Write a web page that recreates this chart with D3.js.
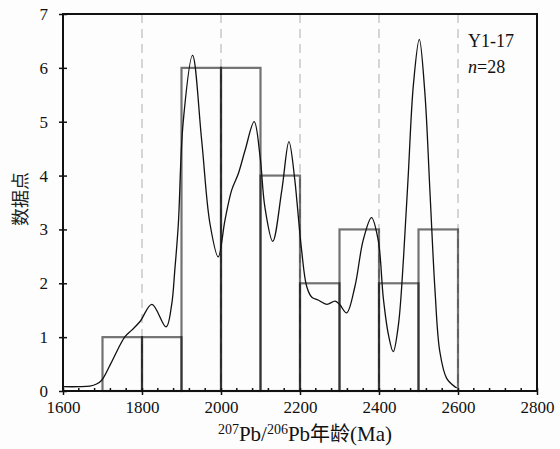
<!DOCTYPE html>
<html>
<head>
<meta charset="utf-8">
<script src="https://cdn.jsdelivr.net/npm/d3@7"></script>
<style>
  body { margin: 0; background: #fdfdfd; }
  svg { display: block; }
  svg text { font-family: 'Times New Roman', 'Liberation Serif', Tinos, 'DejaVu Serif', serif; }
  svg text.cjk, svg tspan.cjk { font-family: 'Noto Sans CJK SC', sans-serif; }
</style>
</head>
<body>
<div id="chart"></div>
<script>
// histogram bins (Ma) and counts
const binStarts = [1700, 1800, 1900, 2000, 2100, 2200, 2300, 2400, 2500];
const binCounts = [1, 1, 6, 6, 4, 2, 3, 2, 3];
const binWidth = 100;

// probability density curve
const curveAges = [1600, 1640, 1668, 1685, 1698, 1719, 1740, 1757, 1774, 1795, 1825, 1861, 1875, 1883, 1892, 1904,
  1928, 1951, 1972, 1993, 2010, 2027, 2044, 2061, 2084, 2099, 2111, 2131, 2154, 2172, 2187, 2192, 2204, 2217,
  2230, 2246, 2268, 2289, 2301, 2318, 2339, 2360, 2381, 2398, 2411, 2424, 2436, 2449, 2462, 2474, 2487, 2502,
  2516, 2529, 2542, 2554, 2571, 2592, 2597];
const curveValues = [0.08, 0.08, 0.09, 0.13, 0.2, 0.48, 0.79, 1.01, 1.13, 1.29, 1.61, 1.19, 1.6, 2.24, 3.1, 4.97,
  6.23, 4.66, 3.11, 2.49, 3.17, 3.73, 4.04, 4.47, 5.0, 4.35, 3.42, 2.78, 3.73, 4.63, 3.91, 3.54, 2.62, 1.94,
  1.74, 1.69, 1.61, 1.67, 1.6, 1.45, 1.94, 2.8, 3.22, 2.8, 1.72, 1.04, 0.73, 1.22, 2.46, 4.0, 5.68, 6.53,
  5.55, 3.7, 1.84, 0.73, 0.24, 0.08, 0.06];

const xTicks = [1600, 1800, 2000, 2200, 2400, 2600, 2800];
const yTicks = [0, 1, 2, 3, 4, 5, 6, 7];
const gridAges = [1800, 2000, 2200, 2400, 2600];

const width = 560, height = 449;
const margin = { top: 14, right: 23, bottom: 58, left: 63 };
const w = width - margin.left - margin.right;
const h = height - margin.top - margin.bottom;

const svg = d3.select('#chart').append('svg')
  .attr('width', width).attr('height', height);

const g = svg.append('g').attr('transform', `translate(${margin.left},${margin.top})`);

const x = d3.scaleLinear().domain([1600, 2800]).range([0, w]);
const y = d3.scaleLinear().domain([0, 7]).range([h, 0]);

// dashed reference lines
g.selectAll('.grid').data(gridAges).enter().append('line')
  .attr('x1', d => x(d)).attr('x2', d => x(d))
  .attr('y1', 0).attr('y2', h)
  .attr('stroke', '#c4c4c4').attr('stroke-width', 1.4)
  .attr('stroke-dasharray', '9,6');

// histogram
g.selectAll('.bar').data(binStarts).enter().append('rect')
  .attr('x', d => x(d))
  .attr('width', x(1600 + binWidth) - x(1600))
  .attr('y', (d, i) => y(binCounts[i]))
  .attr('height', (d, i) => h - y(binCounts[i]))
  .attr('fill', 'none')
  .attr('stroke', '#000').attr('stroke-opacity', 0.55)
  .attr('stroke-width', 2.2);

// density curve
const line = d3.line()
  .x(d => x(d[0])).y(d => y(d[1]))
  .curve(d3.curveCatmullRom.alpha(0.5));
g.append('path')
  .datum(curveAges.map((a, i) => [a, curveValues[i]]))
  .attr('d', line)
  .attr('fill', 'none').attr('stroke', '#111').attr('stroke-width', 1.3);

// frame
g.append('rect').attr('width', w).attr('height', h)
  .attr('fill', 'none').attr('stroke', '#111').attr('stroke-width', 2);

// x axis
const xAxis = g.append('g').attr('transform', `translate(0,${h})`);
xAxis.call(d3.axisBottom(x).tickValues(xTicks).tickFormat(d3.format('d')).tickSizeInner(4).tickSizeOuter(0).tickPadding(6))
  .call(s => s.select('.domain').remove())
  .attr('font-family', null);
xAxis.selectAll('.tick line').attr('stroke', '#111').attr('stroke-width', 1.5).attr('y1', -3);
xAxis.selectAll('text').attr('font-size', 17).attr('fill', '#111');
xAxis.selectAll('.minor').data(d3.range(1640, 2800, 40).filter(v => (v - 1600) % 200 !== 0)).enter()
  .append('line').attr('class', 'minor')
  .attr('x1', d => x(d)).attr('x2', d => x(d))
  .attr('y1', 0).attr('y2', -3)
  .attr('stroke', '#111').attr('stroke-width', 1.5);

// y axis
const yAxis = g.append('g');
yAxis.call(d3.axisLeft(y).tickValues(yTicks).tickFormat(d3.format('d')).tickSizeInner(4).tickSizeOuter(0).tickPadding(11))
  .call(s => s.select('.domain').remove())
  .attr('font-family', null);
yAxis.selectAll('.tick line').attr('stroke', '#111').attr('stroke-width', 1.5).attr('x2', 4).attr('x1', -4);
yAxis.selectAll('text').attr('font-size', 17).attr('fill', '#111');

// axis titles
svg.append('text')
  .attr('class', 'cjk')
  .attr('transform', 'translate(27,199) rotate(-90)')
  .attr('text-anchor', 'middle')
  .attr('font-size', 18)
  .attr('fill', '#222')
  .text('数据点');

const xt = svg.append('text')
  .attr('x', 305)
  .attr('y', 441)
  .attr('text-anchor', 'middle')
  .attr('font-size', 21)
  .attr('fill', '#111');
xt.append('tspan').attr('font-size', 14).attr('dy', -7).text('207');
xt.append('tspan').attr('dy', 7).text('Pb/');
xt.append('tspan').attr('font-size', 14).attr('dy', -7).text('206');
xt.append('tspan').attr('dy', 7).text('Pb');
xt.append('tspan').attr('class', 'cjk').attr('font-size', 20).text('年龄');
xt.append('tspan').text('(Ma)');

// sample label
svg.append('text').attr('x', 468).attr('y', 47)
  .attr('font-size', 18).attr('fill', '#111').text('Y1-17');
const nt = svg.append('text').attr('x', 468).attr('y', 73)
  .attr('font-size', 18).attr('fill', '#111');
nt.append('tspan').attr('font-style', 'italic').text('n');
nt.append('tspan').text('=28');
</script>
</body>
</html>
